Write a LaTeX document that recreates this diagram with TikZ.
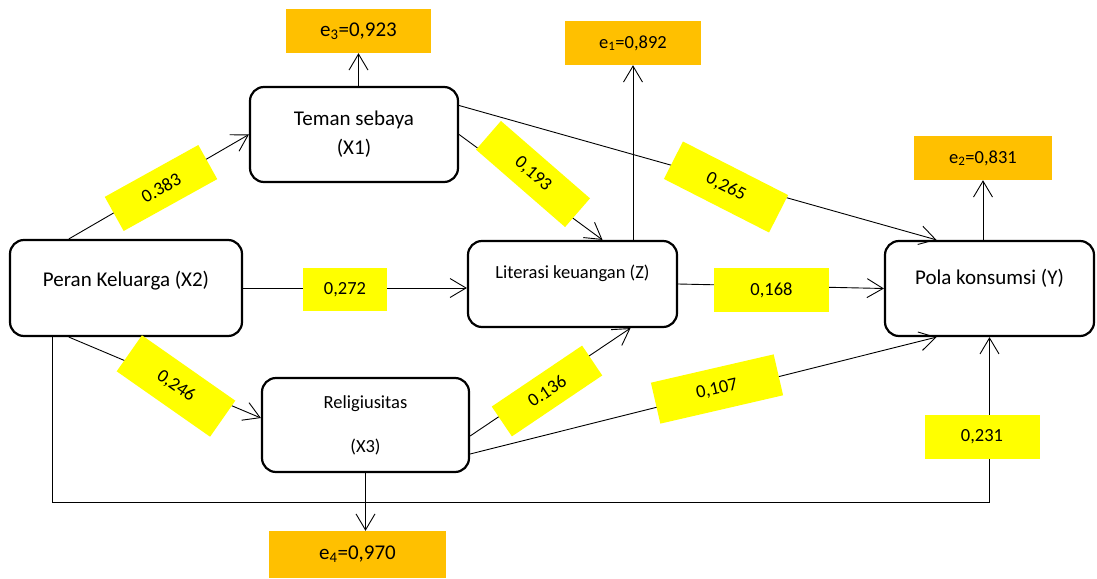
\documentclass[tikz,border=0pt]{standalone}
\usepackage{fontspec}
\setmainfont{Carlito}
\usetikzlibrary{arrows.meta}
\definecolor{errorange}{HTML}{FFC000}
\definecolor{coefyellow}{HTML}{FFFF00}

\begin{document}
\begin{tikzpicture}[x=1pt, y=-1pt,
    var/.style={draw, line width=2.2pt, rounded corners=14pt, align=center, inner sep=0pt, font=\fontsize{21}{25}\selectfont},
    err/.style={fill=errorange, inner sep=0pt, minimum height=44pt, font=\fontsize{18.5}{22}\selectfont},
    coef/.style={fill=coefyellow, inner sep=0pt, minimum width=115pt, minimum height=43pt, font=\fontsize{18.5}{22}\selectfont},
    link/.style={line width=0.9pt, -{Straight Barb[length=16pt,width=19pt]}}]
\useasboundingbox (0,0) rectangle (1097,578);

\node[var, minimum width=232pt, minimum height=96pt, text depth=18pt] (peran) at (126,288) {Peran Keluarga (X2)};
\node[var, minimum width=208pt, minimum height=95pt] (teman) at (354,134.5) {Teman sebaya\\[4pt](X1)};
\node[var, minimum width=209pt, minimum height=86pt, text depth=24pt, font=\fontsize{18.5}{22}\selectfont] (literasi) at (572.5,284) {Literasi keuangan (Z)};
\node[var, minimum width=209pt, minimum height=95pt, text depth=24pt] (pola) at (989.5,288.5) {Pola konsumsi (Y)};
\node[var, minimum width=207pt, minimum height=94pt, font=\fontsize{18.5}{22}\selectfont] (relig) at (365.5,425) {Religiusitas\\[22pt](X3)};

\node[err, minimum width=145pt, font=\fontsize{21}{25}\selectfont] (e3) at (358.5,31) {e\textsubscript{3}=0,923};
\node[err, minimum width=136pt] (e1) at (633,43) {e\textsubscript{1}=0,892};
\node[err, minimum width=138pt] (e2) at (983,158) {e\textsubscript{2}=0,831};
\node[err, minimum width=177pt, minimum height=47pt, font=\fontsize{21}{25}\selectfont] (e4) at (357.5,554.5) {e\textsubscript{4}=0,970};

\coordinate (base) at (0,502);
\draw[link] ([xshift=60pt]peran.north west) -- (teman.west);
\draw[link] (peran.east) -- (peran.east -| literasi.west);
\draw[link] ([xshift=60pt]peran.south west) -- ([yshift=7pt]relig.west);
\draw[link] ([xshift=44pt]peran.south west) |- (base -| pola.south) -- (pola.south);
\draw[link] (teman.east) -- ([xshift=30pt]literasi.north);
\draw[link] ([yshift=29pt]teman.east) -- ([xshift=-53pt]pola.north);
\draw[link] (teman.north -| e3.south) -- (e3.south);
\draw[link] (literasi.north -| e1.south) -- (e1.south);
\draw[link] (literasi.east) -- (pola.west);
\draw[link] ([yshift=-11pt]relig.east) -- ([xshift=58pt]literasi.south);
\draw[link] ([yshift=-29pt]relig.east) -- ([xshift=-53pt]pola.south);
\draw[link] (relig.south) -- (relig.south |- e4.north);
\draw[link] (pola.north -| e2.south) -- (e2.south);

\node[coef, minimum width=107pt, minimum height=39pt, rotate=29] (c383) at (161,188) {0.383};
\node[coef, minimum width=84pt] (c272) at (345,289.5) {0,272};
\node[coef, minimum width=114pt, minimum height=44pt, rotate=-35] (c246) at (176,386) {0,246};
\node[coef, minimum width=118pt, minimum height=38pt, rotate=-41] (c193) at (533,174) {0,193};
\node[coef, minimum width=118pt, minimum height=42pt, rotate=-27] (c265) at (726,187) {0,265};
\node[coef, minimum width=115pt, minimum height=44pt] (c168) at (771.5,290) {0,168};
\node[coef, minimum width=109pt, minimum height=36pt, rotate=34] (c136) at (547,391) {0.136};
\node[coef, minimum width=126pt, minimum height=42pt, rotate=13] (c107) at (717,389) {0,107};
\node[coef, minimum width=115pt, minimum height=44pt] (c231) at (982,437) {0,231};
\end{tikzpicture}
\end{document}
